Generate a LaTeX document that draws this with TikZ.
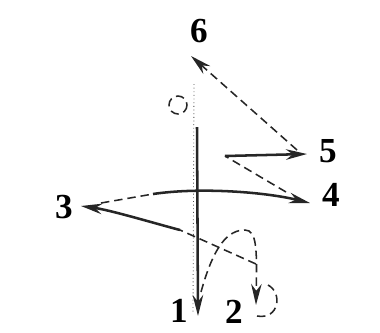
\documentclass[tikz,border=0pt]{standalone}
\usepackage{fontspec}
\setmainfont{Liberation Serif}
\usetikzlibrary{arrows.meta}

\begin{document}
\begin{tikzpicture}[x=0.025cm, y=-0.025cm, >={Stealth[length=15pt,width=7.5pt]},
        beat/.style={font=\bfseries\fontsize{25}{30}\selectfont, inner sep=0pt},
        stroke/.style={line width=1.8pt, draw=black!85},
        swing/.style={line width=1.1pt, draw=black!85, dash pattern=on 6pt off 3.5pt}]
        \useasboundingbox (0,0) rectangle (380,332);
        \node[beat] (n6) at (199,31) {6};
        \node[beat] (n5) at (328,151) {5};
        \node[beat] (n4) at (331,195) {4};
        \node[beat] (n3) at (64,207) {3};
        \node[beat] (n1) at (179,311) {1};
        \node[beat] (n2) at (234,312) {2};
        \coordinate (t6) at (191,56);
        \coordinate (t5) at (307,154);
        \coordinate (t4) at (310,203);
        \coordinate (t3) at (81,206);
        \coordinate (t1) at (198,316);
        \coordinate (t2) at (256,305);
        \coordinate (p0) at (194,84);
        \coordinate (s1) at (197,127);
        \coordinate (b2) at (201,292);
        \coordinate (k2) at (245,230);
        \coordinate (d2) at (256,264);
        \coordinate (m3) at (180,230);
        \coordinate (a3) at (101,203);
        \coordinate (m4) at (153,194);
        \coordinate (d4) at (286,192);
        \coordinate (c45) at (225,156);
        \coordinate (d5) at (297,150);
        \draw[line width=0.6pt, black!70, dotted] (p0) -- (193,312);
        \draw[swing] (178,105) circle (9);
        \draw[stroke, ->] (s1) -- (t1);
        \draw[swing, ->] (b2) .. controls (214,245) and (228,230) .. (k2)
                .. controls (257,230) and (257,250) .. (t2);
        \draw[swing] (257,316) .. controls (279,320) and (283,293) .. (268,285);
        \draw[swing] (d2) -- (m3);
        \draw[stroke, ->] (m3) .. controls (150,222) and (110,210) .. (t3);
        \draw[swing] (a3) -- (m4);
        \draw[stroke, ->] (m4) .. controls (200,187) and (265,192) .. (t4);
        \draw[swing] (d4) -- (c45);
        \draw[stroke, ->] (c45) -- (t5);
        \draw[swing, ->] (d5) -- (t6);
\end{tikzpicture}
\end{document}
